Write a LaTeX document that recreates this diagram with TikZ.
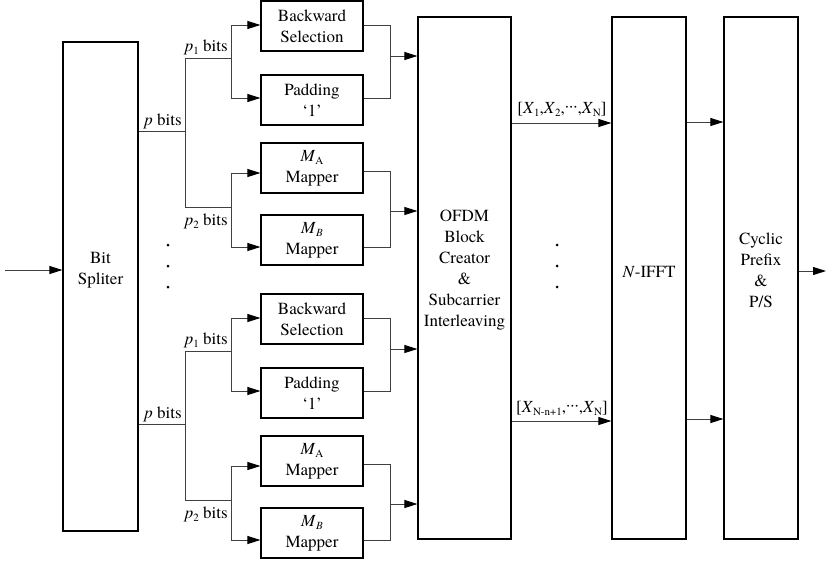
\documentclass[tikz,border=0pt]{standalone}
\usepackage{fontspec}
\setmainfont{TeX Gyre Termes}
\usetikzlibrary{arrows.meta}
\newcommand{\mysub}[1]{\raisebox{-3pt}{\fontsize{11}{11}\selectfont #1}}
\newcommand{\mysubit}[1]{\raisebox{-3pt}{\fontsize{11}{11}\selectfont\itshape #1}}
\newcommand{\mydots}{\raisebox{2pt}{\textperiodcentered\textperiodcentered\textperiodcentered}}
\begin{document}
\begin{tikzpicture}[x=1pt,y=-1pt,
  every node/.style={font=\fontsize{17}{21}\selectfont},
  sbox/.style={draw, line width=1.2pt, minimum width=102pt, minimum height=50pt, inner sep=0pt, align=center},
  bbox/.style={draw, line width=1.2pt, inner sep=0pt},
  txt/.style={align=center, inner sep=0pt},
  lbl/.style={inner sep=0pt},
  conn/.style={line width=0.9pt, draw=black!75},
  arr/.style={conn, -{Triangle[length=13pt,width=8pt,color=black,fill=black]}},
  dotmark/.style={circle, fill=black, inner sep=0pt, minimum size=3pt}]
\useasboundingbox (0,0) rectangle (827,563);

% large boxes
\node[bbox, minimum width=75pt, minimum height=489pt] (split) at (100.5,286.5) {};
\node[txt] (splitt) at (100.5,270) {Bit\\Spliter};
\node[bbox, minimum width=93pt, minimum height=522pt] (ofdm) at (464.5,278) {};
\node[txt] (ofdmt) at (464.5,270) {OFDM\\Block\\Creator\\\&\\Subcarrier\\Interleaving};
\node[bbox, minimum width=74pt, minimum height=522pt] (nifft) at (649,278) {};
\node[txt] (nifftt) at (649,272) {\textit{N}-IFFT};
\node[bbox, minimum width=74pt, minimum height=522pt] (cp) at (761,278) {};
\node[txt] (cpt) at (761,270) {Cyclic\\Prefix\\\&\\P/S};

% input / output
\coordinate (in) at (5,270);
\draw[arr] (in) -- (in -| split.west);
\coordinate (out) at (826,271);
\draw[arr] (out -| cp.east) -- (out);

% two branch groups
\foreach \grp/\off in {A/0,B/293}{
  \node[sbox] (bs\grp) at (312,{26+\off}) {Backward\\Selection};
  \node[sbox] (pd\grp) at (312,{100+\off}) {Padding\\‘1’};
  \node[sbox] (ma\grp) at (312,{168+\off}) {\textit{M}\mysub{A}\\Mapper};
  \node[sbox] (mb\grp) at (312,{240+\off}) {\textit{M}\mysubit{B}\\Mapper};
  \coordinate (p\grp) at (185,{131+\off});
  \coordinate (pa\grp) at (185,{58+\off});
  \coordinate (pb\grp) at (185,{207+\off});
  \coordinate (sa\grp) at (231,{58+\off});
  \coordinate (sb\grp) at (231,{207+\off});
  \coordinate (ia\grp) at (231,{25+\off});
  \coordinate (ib\grp) at (231,{98+\off});
  \coordinate (ic\grp) at (231,{173+\off});
  \coordinate (id\grp) at (231,{247+\off});
  \coordinate (oa\grp) at (390,{25+\off});
  \coordinate (ob\grp) at (390,{98+\off});
  \coordinate (oc\grp) at (390,{171+\off});
  \coordinate (od\grp) at (390,{247+\off});
  \coordinate (ma\grp x) at (390,{56+\off});
  \coordinate (mb\grp x) at (390,{211+\off});
  \draw[conn] (p\grp -| split.east) -- (p\grp);
  \draw[conn] (pa\grp) -- (pb\grp);
  \draw[conn] (pa\grp) -- (sa\grp);
  \draw[conn] (pb\grp) -- (sb\grp);
  \draw[conn] (ia\grp) -- (ib\grp);
  \draw[conn] (ic\grp) -- (id\grp);
  \draw[arr] (ia\grp) -- (ia\grp -| bs\grp.west);
  \draw[arr] (ib\grp) -- (ib\grp -| pd\grp.west);
  \draw[arr] (ic\grp) -- (ic\grp -| ma\grp.west);
  \draw[arr] (id\grp) -- (id\grp -| mb\grp.west);
  \draw[conn] (oa\grp -| bs\grp.east) -- (oa\grp) -- (ob\grp) -- (ob\grp -| pd\grp.east);
  \draw[conn] (oc\grp -| ma\grp.east) -- (oc\grp) -- (od\grp) -- (od\grp -| mb\grp.east);
  \draw[arr] (ma\grp x) -- (ma\grp x -| ofdm.west);
  \draw[arr] (mb\grp x) -- (mb\grp x -| ofdm.west);
  \node[lbl, anchor=base east] (lp\grp) at (182,{125+\off}) {\textit{p} bits};
  \node[lbl, anchor=base east] (lpa\grp) at (228,{51+\off}) {\textit{p}\mysub{1} bits};
  \node[lbl, anchor=base east] (lpb\grp) at (228,{225+\off}) {\textit{p}\mysub{2} bits};
}

% dots
\node[dotmark] (d1) at (168,245) {};
\node[dotmark] (d2) at (168,266) {};
\node[dotmark] (d3) at (168,287) {};
\node[dotmark] (d4) at (557,245) {};
\node[dotmark] (d5) at (557,266) {};
\node[dotmark] (d6) at (557,287) {};

% OFDM -> N-IFFT
\coordinate (x1) at (561,123);
\coordinate (x2) at (561,421);
\draw[arr] (x1 -| ofdm.east) -- (x1 -| nifft.west);
\draw[arr] (x2 -| ofdm.east) -- (x2 -| nifft.west);
\node[lbl, anchor=base] (lx1) at (562,113) {[\textit{X}\mysub{1},\textit{X}\mysub{2},\mydots,\textit{X}\mysub{N}]};
\node[lbl, anchor=base] (lx2) at (562,412) {[\textit{X}\mysub{N-n+1},\mydots,\textit{X}\mysub{N}]};

% N-IFFT -> CP
\coordinate (y1) at (700,122);
\coordinate (y2) at (700,419);
\draw[arr] (y1 -| nifft.east) -- (y1 -| cp.west);
\draw[arr] (y2 -| nifft.east) -- (y2 -| cp.west);
\end{tikzpicture}
\end{document}
